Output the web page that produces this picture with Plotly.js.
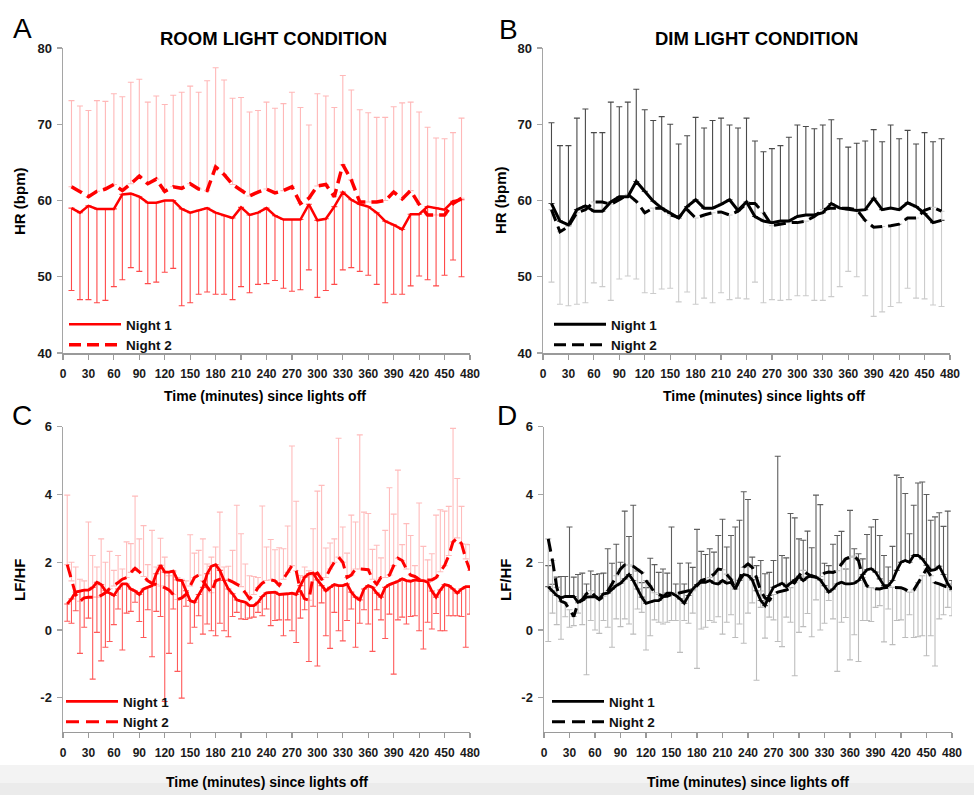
<!DOCTYPE html>
<html><head><meta charset="utf-8">
<script src="https://cdn.plot.ly/plotly-3.0.1.min.js"></script>
<style>html,body{margin:0;padding:0;background:#fff}#chart{width:977px;height:795px}</style>
</head><body><div id="chart"></div>
<script>
// ---------- DATA ----------
const xTickVals = [0,30,60,90,120,150,180,210,240,270,300,330,360,390,420,450,480];
const hrTickVals = [40,50,60,70,80];
const lfTickVals = [-2,0,2,4,6];
const lfTickText = ['-2','0','2','4','6'];

const hrTime = [10,20,30,40,50,60,70,80,90,100,110,120,130,140,150,160,170,180,190,200,210,220,230,240,250,260,270,280,290,300,310,320,330,340,350,360,370,380,390,400,410,420,430,440,450,460,470];

// Panel A: room light, HR
const roomHrNight1 = [59.0,58.4,59.3,58.9,58.9,58.9,60.8,60.9,60.5,59.7,59.7,60.0,60.0,58.9,58.4,58.7,59.0,58.4,58.0,57.7,59.1,58.1,58.4,59.0,58.0,57.5,57.5,57.5,59.5,57.4,57.6,59.2,61.1,60.1,59.5,59.2,58.4,57.3,56.8,56.2,58.2,58.2,59.2,59.0,58.8,59.9,60.1];
const roomHrNight2 = [61.8,61.2,60.5,61.2,61.5,62.1,61.3,62.2,63.2,62.2,62.8,61.2,61.8,61.6,62.2,61.5,61.3,64.4,63.4,62.1,61.4,60.6,61.1,61.5,61.0,61.3,61.8,59.6,60.3,61.9,62.1,60.5,64.7,62.7,59.8,59.8,59.8,60.0,61.1,60.2,61.3,59.5,58.1,58.1,58.1,59.6,60.3];
const roomHrUpper = [73.1,72.4,71.8,73.1,73.0,74.0,73.6,75.5,75.9,72.9,73.7,72.6,73.8,74.2,75.0,74.2,75.7,77.4,75.8,73.4,73.5,71.6,71.8,72.9,72.1,72.7,74.2,72.2,69.9,74.0,73.7,72.2,76.4,74.5,71.9,71.5,70.9,70.9,72.3,72.8,72.9,71.6,69.6,68.2,68.1,68.9,70.8];
const roomHrLower = [48.2,47.0,47.0,46.6,46.9,48.7,49.6,51.2,50.7,49.1,49.3,50.6,51.1,46.2,46.6,47.7,48.0,47.7,47.7,47.0,48.7,47.9,49.0,49.1,49.5,48.5,48.1,48.3,50.9,47.3,48.2,49.0,50.9,51.2,50.7,50.2,49.0,46.6,47.7,47.7,48.8,50.1,49.6,48.8,50.2,52.2,50.0];

// Panel B: dim light, HR
const dimHrNight1 = [59.6,57.3,56.8,58.8,59.3,58.6,58.6,59.8,60.5,60.5,62.5,61.2,59.9,59.0,58.3,57.7,59.2,60.1,59.0,59.0,59.5,60.1,58.7,59.8,57.9,57.3,57.1,57.3,57.3,57.9,58.1,58.1,58.4,59.6,59.0,58.8,58.7,58.8,60.3,58.8,59.0,58.8,59.7,59.2,58.3,57.1,57.4];
const dimHrNight2 = [58.8,55.9,56.6,58.4,58.8,59.8,59.8,59.5,60.1,60.8,59.9,58.4,59.0,59.0,58.1,57.8,58.8,57.7,58.1,58.4,58.5,58.1,58.6,59.6,59.6,58.4,56.7,56.9,57.1,57.1,57.3,57.9,58.8,59.0,59.0,59.0,58.8,57.4,56.5,56.6,56.7,56.9,57.7,57.7,58.7,59.1,58.6];
const dimHrUpper = [70.2,67.2,67.2,70.8,72.0,68.9,68.9,72.9,72.3,72.9,74.6,71.9,70.5,71.0,70.0,67.4,68.5,70.9,69.5,70.5,70.8,69.9,69.5,70.8,67.8,66.4,66.8,67.2,68.3,69.9,69.7,69.4,69.9,70.6,68.1,67.0,67.5,67.8,69.3,67.7,69.9,68.1,69.2,67.4,68.9,67.7,68.1];
const dimHrLower = [49.3,46.4,46.2,46.4,46.6,49.2,48.7,46.9,49.7,50.1,49.7,47.9,47.8,48.4,48.5,46.7,48.0,46.4,47.2,46.6,47.9,47.0,47.2,47.1,49.3,46.6,47.0,46.9,47.0,47.5,47.5,46.9,46.9,47.4,48.7,50.7,50.0,47.5,44.8,45.4,46.1,46.6,48.5,47.2,47.1,46.3,46.1];

const lfTime = [5,10,15,20,25,30,35,40,45,50,55,60,65,70,75,80,85,90,95,100,105,110,115,120,125,130,135,140,145,150,155,160,165,170,175,180,185,190,195,200,205,210,215,220,225,230,235,240,245,250,255,260,265,270,275,280,285,290,295,300,305,310,315,320,325,330,335,340,345,350,355,360,365,370,375,380,385,390,395,400,405,410,415,420,425,430,435,440,445,450,455,460,465,470,475,480];

// Panel C: room light, LF/HF
const roomLfNight1 = [0.77,0.92,1.12,1.15,1.18,1.18,1.26,1.41,1.34,1.16, 1.09,1.02,1.21,1.36,1.36,1.21,1.15,1.05,1.21,1.26, 1.31,1.66,1.91,1.71,1.71,1.74,1.48,1.46,1.16,0.87, 0.82,1.05,1.26,1.66,1.88,1.93,1.76,1.46,1.21,1.07, 0.89,0.85,0.82,0.72,0.72,0.82,0.99,1.10,1.12,1.12, 1.05,1.05,1.07,1.09,1.05,1.31,1.56,1.66,1.68,1.48, 1.31,1.16,1.26,1.34,1.31,1.31,1.36,1.12,0.97,0.89, 1.21,1.31,1.26,1.09,0.97,1.26,1.34,1.38,1.44,1.51, 1.46,1.44,1.48,1.46,1.46,1.41,1.15,0.97,1.18,1.34, 1.31,1.21,1.09,1.21,1.28,1.28];
const roomLfNight2 = [1.93,1.45,1.05,0.85,0.95,0.97,0.97,0.97,1.02,1.10, 1.22,1.30,1.40,1.50,1.55,1.70,1.82,1.72,1.58,1.45, 1.38,1.35,1.30,1.25,1.18,1.05,0.90,0.95,1.05,1.30, 1.55,1.62,1.45,1.25,1.10,1.45,1.50,1.50,1.48,1.42, 1.36,1.28,1.10,0.92,1.05,1.25,1.38,1.46,1.48,1.45, 1.32,1.50,1.70,1.90,1.75,1.15,0.92,0.88,1.60,1.68, 1.50,1.55,1.80,2.00,2.15,2.00,1.55,1.62,1.80,1.80, 1.80,1.78,1.50,1.35,1.55,1.55,1.62,1.90,2.12,2.05, 1.80,1.62,1.58,1.50,1.48,1.48,1.48,1.55,1.72,1.90, 2.20,2.60,2.72,2.55,2.10,1.76];
const roomLfUpper = [3.98,2.0,1.86,1.5,1.45,3.19,2.2,1.86,2.69,2.0, 2.32,1.76,2.2,1.8,2.6,2.55,3.95,2.69,3.08,1.93, 2.94,1.86,2.71,2.15,1.6,1.7,1.55,1.5,1.45,2.81, 2.27,2.35,2.69,1.95,2.15,2.45,3.48,1.86,1.88,2.35, 3.68,2.84,1.95,1.6,1.58,1.55,3.66,2.45,2.67,2.37, 2.43,2.4,3.07,5.43,3.8,1.61,1.86,1.75,2.99,4.1, 4.27,2.42,2.57,2.69,5.66,3.04,2.27,3.39,3.19,5.76, 3.48,3.44,2.38,2.5,2.13,2.94,4.2,3.42,4.72,2.52, 3.14,2.79,1.9,3.75,2.47,2.07,2.25,3.39,3.55,3.51, 3.65,5.95,4.47,3.65,2.53,2.52];
const roomLfLower = [0.26,0.2,0.57,-0.69,0.08,0.35,-1.45,-0.07,-0.91,-0.51, -0.34,0.16,0.62,-0.59,0.5,0.55,0.82,0.25,-0.22,0.6, -0.79,0.55,0.4,-2.11,-0.69,0.62,-1.22,-2.01,0.7,-0.39, 0.08,0.42,-0.12,0.18,-0.02,-0.17,0.2,-0.02,-0.2,0.4, 0.52,0.33,0.31,0.35,0.38,0.52,0.42,0.62,0.13,0.28, 0.3,-0.17,0.3,-0.02,-0.37,0.35,0.6,-0.93,0.7,-1.06, 0.8,-0.17,-0.54,0.52,-0.02,-0.32,0.28,0.62,-0.51,0.2, 0.6,0.18,-0.63,0.6,0.3,-0.25,0.47,-1.3,0.3,0.38, 0.18,0.4,0.42,-0.02,-0.56,0.23,0.03,0.49,-0.02,-0.02, 0.42,0.42,0.42,0.4,-0.51,0.47];

// Panel D: dim light, LF/HF
const dimLfNight1 = [1.28,1.15,1.02,0.95,0.99,0.99,0.99,0.82,0.87,0.97, 0.97,0.99,0.92,1.07,1.09,1.21,1.31,1.38,1.51,1.64, 1.46,1.21,0.97,0.79,0.82,0.87,0.87,0.97,1.09,1.09, 1.02,0.92,0.79,1.02,1.21,1.34,1.41,1.41,1.46,1.38, 1.36,1.46,1.38,1.41,1.21,1.46,1.64,1.61,1.48,1.16, 0.87,0.72,1.02,1.26,1.31,1.38,1.28,1.38,1.48,1.58, 1.46,1.56,1.61,1.56,1.48,1.31,1.12,1.21,1.36,1.41, 1.36,1.36,1.38,1.46,1.64,1.78,1.81,1.71,1.51,1.31, 1.31,1.46,1.76,2.0,2.05,2.0,2.2,2.2,2.1,1.91, 1.76,1.78,1.88,1.64,1.36,1.2];
const dimLfNight2 = [2.69,2.05,1.26,0.85,0.80,0.60,0.40,0.80,0.90,1.07, 1.16,1.0,0.90,1.00,1.15,1.36,1.60,1.80,1.92,1.92, 1.88,1.80,1.70,1.46,1.30,1.10,1.05,1.00,1.00,1.05, 1.07,1.10,1.15,1.16,1.16,1.30,1.46,1.50,1.55,1.65, 1.80,1.78,1.65,1.50,1.21,1.50,1.85,1.95,1.85,1.55, 1.15,0.95,0.87,1.05,1.12,1.15,1.18,1.25,1.40,1.60, 1.76,1.65,1.58,1.56,1.58,1.68,1.71,1.70,1.75,1.95, 2.10,2.15,2.18,2.05,1.55,1.30,1.25,1.22,1.21,1.25, 1.26,1.26,1.26,1.25,1.20,1.12,1.18,1.40,1.60,1.80, 1.60,1.40,1.36,1.30,1.26,1.16];
const dimLfUpper = [1.9,1.35,1.56,1.58,1.58,3.04,1.56,1.64,1.68,1.36, 1.74,1.64,1.66,1.68,2.4,1.97,2.53,2.0,3.51,2.76, 3.68,1.74,1.40,1.25,2.12,1.93,1.70,1.80,1.68,3.04, 1.36,1.97,1.36,1.98,1.85,2.97,2.32,2.23,2.4,2.30, 2.79,3.27,2.45,2.79,3.04,3.24,4.08,3.85,2.15,1.90, 2.05,1.66,1.70,2.05,5.13,2.2,2.13,3.44,3.31,2.69, 2.65,2.92,2.43,3.98,3.7,1.97,1.90,2.53,2.79,2.91, 1.80,3.53,2.40,2.25,2.10,2.82,3.04,3.26,2.79,2.2, 1.86,2.47,4.57,4.5,4.03,2.84,3.68,4.34,4.37,4.0, 3.24,3.34,3.46,3.06,3.51,1.46];
const dimLfLower = [-0.34,0.5,0.16,-0.27,0.39,0.08,0.13,0.5,0.16,-1.32, 0.28,0.0,-0.1,0.28,0.08,-0.51,0.33,0.1,0.33,0.18, -0.12,0.62,0.52,-0.59,-0.17,0.3,0.23,0.18,0.23,0.28, 0.28,-0.66,0.28,0.2,0.5,-1.13,0.03,0.08,0.28,0.23, 0.39,-0.12,0.23,0.45,-0.22,0.18,-0.39,0.5,0.8,-1.48, 0.67,-0.24,0.38,0.3,-0.34,-0.49,0.38,0.23,-1.35,-0.07, 0.1,0.49,-0.2,0.89,0.0,0.2,0.87,0.33,-1.22,0.23, 0.37,-0.88,-0.14,-0.93,0.28,0.28,0.25,0.67,0.72,-0.35, 0.62,-0.43,0.28,0.3,-0.22,0.45,-0.22,-0.2,-0.17,-0.76, -0.17,-1.06,0.33,0.45,0.67,0.42];

// ---------- STYLE / LAYOUT ----------
const W = 977, H = 795;
const px = v => v / W, py = v => 1 - v / H;
const FN = "'Liberation Sans', Arial, sans-serif";
const FR = "'Liberation Sans', Arial, sans-serif";

const up = (hi, mean) => hi.map((v, i) => Math.max(0, v - mean[i]));
const down = (mean, lo) => mean.map((v, i) => Math.max(0, v - lo[i]));
const none = a => a.map(() => 0);

function errTrace(x, y, plus, minus, color, xa, ya) {
  return {x: x, y: y, type: 'scatter', mode: 'markers', xaxis: xa, yaxis: ya,
    marker: {size: 2, opacity: 0}, showlegend: false, hoverinfo: 'skip',
    error_y: {type: 'data', symmetric: false, array: plus, arrayminus: minus,
      color: color, thickness: 1.1, width: 3}};
}
function lineTrace(x, y, name, color, width, dash, xa, ya, leg) {
  return {x: x, y: y, type: 'scatter', mode: 'lines', name: name, xaxis: xa, yaxis: ya,
    legend: leg, hoverinfo: 'skip', line: {color: color, width: width, dash: dash}};
}

const RED = '#ff0000', BLK = '#000000';
const traces = [
  // A
  errTrace(hrTime, roomHrNight2, up(roomHrUpper, roomHrNight2), none(hrTime), '#ffb8b8', 'x', 'y'),
  errTrace(hrTime, roomHrNight1, none(hrTime), down(roomHrNight1, roomHrLower), '#ff4a4a', 'x', 'y'),
  lineTrace(hrTime, roomHrNight1, 'Night 1', RED, 2.5, 'solid', 'x', 'y', 'legend'),
  lineTrace(hrTime, roomHrNight2, 'Night 2', RED, 3.5, '12px,6px', 'x', 'y', 'legend'),
  // B
  errTrace(hrTime, dimHrNight1, up(dimHrUpper, dimHrNight1), none(hrTime), '#4a4a4a', 'x2', 'y2'),
  errTrace(hrTime, dimHrNight2, none(hrTime), down(dimHrNight2, dimHrLower), '#cccccc', 'x2', 'y2'),
  lineTrace(hrTime, dimHrNight1, 'Night 1', BLK, 3, 'solid', 'x2', 'y2', 'legend2'),
  lineTrace(hrTime, dimHrNight2, 'Night 2', BLK, 3, '12px,6px', 'x2', 'y2', 'legend2'),
  // C
  errTrace(lfTime, roomLfNight2, up(roomLfUpper, roomLfNight2), none(lfTime), '#ffbcbc', 'x3', 'y3'),
  errTrace(lfTime, roomLfNight1, none(lfTime), down(roomLfNight1, roomLfLower), '#ff5a5a', 'x3', 'y3'),
  lineTrace(lfTime, roomLfNight1, 'Night 1', RED, 2.8, 'solid', 'x3', 'y3', 'legend3'),
  lineTrace(lfTime, roomLfNight2, 'Night 2', RED, 3, '13px,7px', 'x3', 'y3', 'legend3'),
  // D
  errTrace(lfTime, dimLfNight1, up(dimLfUpper, dimLfNight1), none(lfTime), '#5e5e5e', 'x4', 'y4'),
  errTrace(lfTime, dimLfNight2, none(lfTime), down(dimLfNight2, dimLfLower), '#bdbdbd', 'x4', 'y4'),
  lineTrace(lfTime, dimLfNight1, 'Night 1', BLK, 2.8, 'solid', 'x4', 'y4', 'legend4'),
  lineTrace(lfTime, dimLfNight2, 'Night 2', BLK, 3, '13px,7px', 'x4', 'y4', 'legend4')
];

const tickFont = {family: FN, size: 12, color: '#1a1a1a', weight: 'bold'};
function xAxis(x0, x1, anchor) {
  return {domain: [px(x0), px(x1)], anchor: anchor, range: [0, 480], tickvals: xTickVals,
    showline: true, linecolor: '#9a9a9a', linewidth: 1.5, ticks: 'outside', ticklen: 5,
    tickcolor: '#9a9a9a', tickwidth: 1.2, tickfont: tickFont, ticklabelstandoff: 4,
    showgrid: false, zeroline: false, fixedrange: true};
}
function yAxis(y0, y1, anchor, range, tv, tt) {
  const a = {domain: [py(y1), py(y0)], anchor: anchor, range: range, tickvals: tv,
    showline: true, linecolor: '#a5a5a5', linewidth: 1.5, ticks: 'outside', ticklen: 5,
    tickcolor: '#a5a5a5', tickwidth: 1.2, tickfont: {family: FN, size: 13, color: '#1a1a1a', weight: 'bold'},
    ticklabelstandoff: 2, showgrid: false, zeroline: false, fixedrange: true};
  if (tt) a.ticktext = tt;
  return a;
}
function legendAt(x, y) {
  return {x: px(x), y: py(y), xanchor: 'left', yanchor: 'top', bgcolor: 'rgba(0,0,0,0)',
    borderwidth: 0, itemwidth: 52, tracegroupgap: 0,
    font: {family: FN, size: 13.5, color: '#111', weight: 'bold'}};
}
function ann(text, x, y, font, extra) {
  return Object.assign({text: text, x: px(x), y: py(y), xref: 'paper', yref: 'paper',
    showarrow: false, xanchor: 'center', yanchor: 'middle', font: font}, extra || {});
}
const letterFont = {family: FR, size: 28, color: '#000'};
const titleFont = {family: FN, size: 18.5, color: '#000', weight: 'bold'};
const axTitleFont = {family: FN, size: 14, color: '#000', weight: 'bold'};
const yTitleFont = {family: FN, size: 15, color: '#000', weight: 'bold'};

const layout = {
  width: W, height: H, margin: {l: 0, r: 0, t: 0, b: 0},
  paper_bgcolor: '#ffffff', plot_bgcolor: 'rgba(0,0,0,0)', showlegend: true,
  xaxis: xAxis(63, 470, 'y'), yaxis: yAxis(48, 353, 'x', [40, 80], hrTickVals),
  xaxis2: xAxis(543, 950, 'y2'), yaxis2: yAxis(48, 353, 'x2', [40, 80], hrTickVals),
  xaxis3: xAxis(63, 470, 'y3'), yaxis3: yAxis(426.7, 731.7, 'x3', [-3, 6], lfTickVals, lfTickText),
  xaxis4: xAxis(544, 952, 'y4'), yaxis4: yAxis(426.7, 731.7, 'x4', [-3, 6], lfTickVals, lfTickText),
  legend: legendAt(64, 309), legend2: legendAt(549, 309),
  legend3: legendAt(61, 686), legend4: legendAt(547, 686),
  shapes: [
    {type: 'rect', xref: 'paper', yref: 'paper', x0: 0, x1: px(974), y0: py(795), y1: py(765),
      fillcolor: '#f3f3f3', line: {width: 0}, layer: 'below'},
    {type: 'rect', xref: 'paper', yref: 'paper', x0: 0, x1: px(974), y0: py(795), y1: py(783),
      fillcolor: '#ebebeb', line: {width: 0}, layer: 'below'}
  ],
  annotations: [
    ann('A', 22, 29, letterFont), ann('B', 508, 30, letterFont),
    ann('C', 22, 415, letterFont), ann('D', 507, 415, letterFont),
    ann('ROOM LIGHT CONDITION', 273, 39, titleFont),
    ann('DIM LIGHT CONDITION', 756, 39, titleFont),
    ann('Time (minutes) since lights off', 265, 396, axTitleFont),
    ann('Time (minutes) since lights off', 764, 396, axTitleFont),
    ann('Time (minutes) since lights off', 267, 782, axTitleFont),
    ann('Time (minutes) since lights off', 748, 782, axTitleFont),
    ann('HR (bpm)', 20, 201, yTitleFont, {textangle: -90}),
    ann('HR (bpm)', 501, 200, yTitleFont, {textangle: -90}),
    ann('LF/HF', 19, 580, yTitleFont, {textangle: -90}),
    ann('LF/HF', 505, 580, yTitleFont, {textangle: -90})
  ]
};

Plotly.newPlot('chart', traces, layout, {displayModeBar: false, staticPlot: true});
</script></body></html>
